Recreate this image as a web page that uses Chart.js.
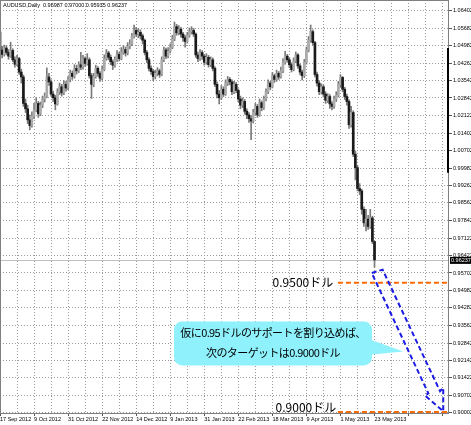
<!DOCTYPE html>
<html>
<head>
<meta charset="utf-8">
<script src="https://cdn.jsdelivr.net/npm/chart.js@4.4.1/dist/chart.umd.min.js"></script>
<style>
  html, body { margin: 0; padding: 0; background: #fff; }
  #wrap { width: 471px; height: 425px; }
</style>
</head>
<body>
<div id="wrap"><canvas id="chart" width="471" height="425"></canvas></div>
<script>
// AUDUSD daily bars, 17 Sep 2012 .. 23 May 2013
const opens = [
  1.0553, 1.0480, 1.0462, 1.0488, 1.0470, 1.0455, 1.0478, 1.0440, 1.0422, 1.0445,
  1.0390, 1.0370, 1.0262, 1.0240, 1.0195, 1.0172, 1.0210, 1.0235, 1.0262, 1.0220,
  1.0255, 1.0280, 1.0290, 1.0370, 1.0350, 1.0300, 1.0285, 1.0260, 1.0310, 1.0330,
  1.0305, 1.0340, 1.0325, 1.0360, 1.0385, 1.0372, 1.0405, 1.0395, 1.0420, 1.0410,
  1.0445, 1.0425, 1.0440, 1.0375, 1.0340, 1.0372, 1.0405, 1.0385, 1.0365, 1.0400,
  1.0445, 1.0468, 1.0450, 1.0432, 1.0418, 1.0440, 1.0462, 1.0445, 1.0470, 1.0482,
  1.0468, 1.0495, 1.0505, 1.0535, 1.0560, 1.0545, 1.0552, 1.0538, 1.0520, 1.0470,
  1.0440, 1.0405, 1.0392, 1.0372, 1.0385, 1.0395, 1.0380, 1.0440, 1.0480, 1.0455,
  1.0475, 1.0490, 1.0525, 1.0575, 1.0550, 1.0565, 1.0545, 1.0530, 1.0515, 1.0540,
  1.0555, 1.0560, 1.0545, 1.0460, 1.0445, 1.0470, 1.0455, 1.0430, 1.0450, 1.0420,
  1.0440, 1.0405, 1.0340, 1.0300, 1.0285, 1.0320, 1.0300, 1.0345, 1.0360, 1.0350,
  1.0310, 1.0340, 1.0315, 1.0280, 1.0255, 1.0270, 1.0230, 1.0215, 1.0200, 1.0190,
  1.0225, 1.0250, 1.0215, 1.0265, 1.0245, 1.0280, 1.0310, 1.0345, 1.0330, 1.0375,
  1.0360, 1.0385, 1.0370, 1.0395, 1.0430, 1.0455, 1.0440, 1.0420, 1.0400, 1.0435,
  1.0460, 1.0415, 1.0390, 1.0375, 1.0430, 1.0480, 1.0520, 1.0555, 1.0510, 1.0380,
  1.0345, 1.0310, 1.0330, 1.0300, 1.0275, 1.0290, 1.0260, 1.0250, 1.0280, 1.0295,
  1.0340, 1.0368, 1.0320, 1.0290, 1.0270, 1.0175, 1.0225, 1.0055, 1.0000, 0.9915,
  0.9905, 0.9830, 0.9775, 0.9790, 0.9760, 0.9795, 0.96987
];
const highs = [
  1.0562, 1.0495, 1.0500, 1.0498, 1.0482, 1.0512, 1.0485, 1.0452, 1.0458, 1.0450,
  1.0402, 1.0378, 1.0280, 1.0255, 1.0215, 1.0228, 1.0262, 1.0285, 1.0270, 1.0268,
  1.0292, 1.0305, 1.0407, 1.0385, 1.0358, 1.0312, 1.0295, 1.0322, 1.0345, 1.0340,
  1.0355, 1.0352, 1.0372, 1.0398, 1.0395, 1.0420, 1.0418, 1.0432, 1.0470, 1.0458,
  1.0452, 1.0465, 1.0448, 1.0385, 1.0385, 1.0418, 1.0412, 1.0392, 1.0415, 1.0460,
  1.0482, 1.0475, 1.0460, 1.0440, 1.0452, 1.0478, 1.0470, 1.0490, 1.0498, 1.0492,
  1.0510, 1.0522, 1.0548, 1.0582, 1.0572, 1.0568, 1.0562, 1.0545, 1.0525, 1.0478,
  1.0448, 1.0415, 1.0400, 1.0398, 1.0408, 1.0402, 1.0452, 1.0492, 1.0488, 1.0490,
  1.0505, 1.0540, 1.0594, 1.0585, 1.0580, 1.0572, 1.0552, 1.0540, 1.0552, 1.0570,
  1.0575, 1.0568, 1.0550, 1.0472, 1.0482, 1.0478, 1.0462, 1.0465, 1.0458, 1.0452,
  1.0448, 1.0412, 1.0350, 1.0315, 1.0335, 1.0330, 1.0358, 1.0372, 1.0368, 1.0358,
  1.0352, 1.0348, 1.0322, 1.0292, 1.0285, 1.0278, 1.0240, 1.0225, 1.0212, 1.0238,
  1.0262, 1.0258, 1.0280, 1.0272, 1.0292, 1.0322, 1.0358, 1.0352, 1.0388, 1.0382,
  1.0398, 1.0392, 1.0410, 1.0445, 1.0475, 1.0462, 1.0448, 1.0428, 1.0448, 1.0472,
  1.0465, 1.0422, 1.0398, 1.0442, 1.0492, 1.0535, 1.0582, 1.0562, 1.0515, 1.0390,
  1.0355, 1.0342, 1.0338, 1.0310, 1.0302, 1.0298, 1.0270, 1.0292, 1.0310, 1.0352,
  1.0380, 1.0372, 1.0328, 1.0300, 1.0278, 1.0250, 1.0232, 1.0068, 1.0010, 0.9935,
  0.9912, 0.9840, 0.9830, 0.9805, 0.9830, 0.9802, 0.97000
];
const lows = [
  1.0470, 1.0448, 1.0455, 1.0460, 1.0442, 1.0450, 1.0432, 1.0410, 1.0415, 1.0380,
  1.0345, 1.0250, 1.0225, 1.0180, 1.0154, 1.0165, 1.0200, 1.0228, 1.0205, 1.0212,
  1.0245, 1.0268, 1.0285, 1.0335, 1.0292, 1.0270, 1.0236, 1.0255, 1.0298, 1.0292,
  1.0298, 1.0312, 1.0318, 1.0350, 1.0360, 1.0365, 1.0382, 1.0388, 1.0400, 1.0402,
  1.0412, 1.0418, 1.0365, 1.0282, 1.0330, 1.0365, 1.0372, 1.0352, 1.0358, 1.0395,
  1.0438, 1.0440, 1.0420, 1.0400, 1.0410, 1.0432, 1.0435, 1.0440, 1.0462, 1.0455,
  1.0460, 1.0485, 1.0498, 1.0528, 1.0535, 1.0530, 1.0525, 1.0505, 1.0460, 1.0428,
  1.0395, 1.0380, 1.0355, 1.0362, 1.0375, 1.0368, 1.0375, 1.0432, 1.0445, 1.0448,
  1.0468, 1.0485, 1.0518, 1.0540, 1.0542, 1.0532, 1.0515, 1.0492, 1.0508, 1.0532,
  1.0545, 1.0535, 1.0450, 1.0432, 1.0438, 1.0442, 1.0418, 1.0422, 1.0410, 1.0412,
  1.0395, 1.0330, 1.0285, 1.0260, 1.0278, 1.0290, 1.0295, 1.0335, 1.0338, 1.0298,
  1.0302, 1.0305, 1.0268, 1.0240, 1.0245, 1.0218, 1.0200, 1.0185, 1.0114, 1.0182,
  1.0215, 1.0205, 1.0210, 1.0232, 1.0238, 1.0272, 1.0302, 1.0318, 1.0325, 1.0348,
  1.0352, 1.0360, 1.0365, 1.0388, 1.0422, 1.0430, 1.0408, 1.0390, 1.0395, 1.0428,
  1.0405, 1.0378, 1.0358, 1.0368, 1.0422, 1.0472, 1.0512, 1.0500, 1.0370, 1.0332,
  1.0298, 1.0300, 1.0288, 1.0262, 1.0265, 1.0242, 1.0236, 1.0242, 1.0270, 1.0288,
  1.0330, 1.0310, 1.0278, 1.0255, 1.0160, 1.0165, 1.0045, 0.9950, 0.9905, 0.9890,
  0.9810, 0.9760, 0.9742, 0.9748, 0.9752, 0.9690, 0.95935
];
const closes = [
  1.0480, 1.0462, 1.0488, 1.0470, 1.0455, 1.0478, 1.0440, 1.0422, 1.0445, 1.0390,
  1.0370, 1.0262, 1.0240, 1.0195, 1.0172, 1.0210, 1.0235, 1.0262, 1.0220, 1.0255,
  1.0280, 1.0290, 1.0370, 1.0350, 1.0300, 1.0285, 1.0260, 1.0310, 1.0330, 1.0305,
  1.0340, 1.0325, 1.0360, 1.0385, 1.0372, 1.0405, 1.0395, 1.0420, 1.0410, 1.0445,
  1.0425, 1.0440, 1.0375, 1.0340, 1.0372, 1.0405, 1.0385, 1.0365, 1.0400, 1.0445,
  1.0468, 1.0450, 1.0432, 1.0418, 1.0440, 1.0462, 1.0445, 1.0470, 1.0482, 1.0468,
  1.0495, 1.0505, 1.0535, 1.0560, 1.0545, 1.0552, 1.0538, 1.0520, 1.0470, 1.0440,
  1.0405, 1.0392, 1.0372, 1.0385, 1.0395, 1.0380, 1.0440, 1.0480, 1.0455, 1.0475,
  1.0490, 1.0525, 1.0575, 1.0550, 1.0565, 1.0545, 1.0530, 1.0515, 1.0540, 1.0555,
  1.0560, 1.0545, 1.0460, 1.0445, 1.0470, 1.0455, 1.0430, 1.0450, 1.0420, 1.0440,
  1.0405, 1.0340, 1.0300, 1.0285, 1.0320, 1.0300, 1.0345, 1.0360, 1.0350, 1.0310,
  1.0340, 1.0315, 1.0280, 1.0255, 1.0270, 1.0230, 1.0215, 1.0200, 1.0190, 1.0225,
  1.0250, 1.0215, 1.0265, 1.0245, 1.0280, 1.0310, 1.0345, 1.0330, 1.0375, 1.0360,
  1.0385, 1.0370, 1.0395, 1.0430, 1.0455, 1.0440, 1.0420, 1.0400, 1.0435, 1.0460,
  1.0415, 1.0390, 1.0375, 1.0430, 1.0480, 1.0520, 1.0555, 1.0510, 1.0380, 1.0345,
  1.0310, 1.0330, 1.0300, 1.0275, 1.0290, 1.0260, 1.0250, 1.0280, 1.0295, 1.0340,
  1.0368, 1.0320, 1.0290, 1.0270, 1.0175, 1.0225, 1.0055, 1.0000, 0.9915, 0.9905,
  0.9830, 0.9775, 0.9790, 0.9760, 0.9795, 0.9699, 0.96237
];

// one label every 16 bars
const xTickLabels = ['17 Sep 2012', '9 Oct 2012', '31 Oct 2012', '22 Nov 2012', '14 Dec 2012', '9 Jan 2013',
  '31 Jan 2013', '22 Feb 2013', '18 Mar 2013', '9 Apr 2013', '1 May 2013', '23 May 2013'];
const yTickValues = [1.06402, 1.05682, 1.04982, 1.04262, 1.03542, 1.02842, 1.02122, 1.01402, 1.00702, 0.99982,
  0.99262, 0.98562, 0.97842, 0.97122, 0.96422, 0.95702, 0.94982, 0.94282, 0.93562, 0.92842,
  0.92142, 0.91422, 0.90702, 0.90002];

const headerText = 'AUDUSD,Daily  0.96987 0.97000 0.95935 0.96237';
const lastPrice = 0.96237;
const supportLevel = 0.9530;   // drawn slightly above 0.95 in the picture
const targetLevel = 0.9003;
const calloutLines = ['仮に0.95ドルのサポートを割り込めば、', '次のターゲットは0.9000ドル'];

// chart has empty shift space on the right
const slotCount = 212;
const slots = Array.from({ length: slotCount }, (_, i) => i);

const wickData = lows.map((l, i) => [l, highs[i]]);
const bodyData = opens.map((o, i) => [o, closes[i]]);
const isUp = i => closes[i] >= opens[i];

const gridColor = '#9a9a9a';
const axisFont = { family: 'Liberation Sans', size: 5.5 };
const jpFont = '12px "Noto Sans CJK JP"';
const calloutFont = '11px "Noto Sans CJK JP"';

const overlay = {
    id: 'overlay',
    beforeDatasetsDraw(chart) {
        const { ctx, chartArea: a, scales: { y } } = chart;
        const yy = Math.round(y.getPixelForValue(lastPrice)) + 0.5;
        ctx.save();
        ctx.strokeStyle = '#c0c0c0';
        ctx.lineWidth = 1;
        ctx.beginPath();
        ctx.moveTo(a.left, yy);
        ctx.lineTo(a.right, yy);
        ctx.stroke();
        ctx.restore();
    },
    afterDatasetsDraw(chart) {
        const { ctx, chartArea: a, scales: { x, y } } = chart;
        const px = v => x.getPixelForValue(v);
        const py = v => y.getPixelForValue(v);
        ctx.save();

        // orange level lines
        ctx.strokeStyle = '#ff6a00';
        ctx.lineWidth = 2;
        ctx.setLineDash([5, 3]);
        [supportLevel, targetLevel].forEach(lv => {
            ctx.beginPath();
            ctx.moveTo(px(158.8), py(lv));
            ctx.lineTo(a.right, py(lv));
            ctx.stroke();
        });

        // level texts
        ctx.setLineDash([]);
        ctx.fillStyle = '#000';
        ctx.font = jpFont;
        ctx.textAlign = 'right';
        ctx.textBaseline = 'middle';
        ctx.fillText('0.9500ドル', px(156.6), py(0.9531));
        ctx.fillText('0.9000ドル', px(158.0), py(0.9021));

        // callout bubble
        const bx0 = px(81.8), bx1 = px(174.8), by0 = py(0.9372), by1 = py(0.9193);
        ctx.fillStyle = '#8ef1fb';
        ctx.beginPath();
        ctx.roundRect(bx0, by0, bx1 - bx0, by1 - by0, 8);
        ctx.fill();
        ctx.beginPath();
        ctx.moveTo(bx1 - 2, py(0.9299));
        ctx.lineTo(px(189.5), py(0.9250));
        ctx.lineTo(bx1 - 2, py(0.9237));
        ctx.closePath();
        ctx.fill();
        ctx.fillStyle = '#000';
        ctx.font = calloutFont;
        ctx.letterSpacing = '-0.6px';
        ctx.textAlign = 'center';
        ctx.fillText(calloutLines[0], px(128.3), py(0.9327));
        ctx.fillText(calloutLines[1], px(128.3), py(0.9246));
        ctx.letterSpacing = '0px';

        // blue dashed block arrow
        const arrow = [[174.7, 0.9570], [179.8, 0.9584], [206.8, 0.9088], [208.3, 0.9102],
                       [208.3, 0.9006], [199.7, 0.9070], [201.3, 0.9079]];
        ctx.strokeStyle = '#1c1ce6';
        ctx.lineWidth = 2;
        ctx.setLineDash([5, 3]);
        ctx.beginPath();
        arrow.forEach(([i, v], k) => k ? ctx.lineTo(px(i), py(v)) : ctx.moveTo(px(i), py(v)));
        ctx.closePath();
        ctx.stroke();
        ctx.restore();
    },
    afterDraw(chart) {
        const { ctx, chartArea: a, scales: { y } } = chart;
        ctx.save();
        // plot frame
        ctx.strokeStyle = '#808080';
        ctx.lineWidth = 1;
        ctx.strokeRect(a.left + 0.5, a.top + 0.5, a.right - a.left - 1, a.bottom - a.top);
        ctx.strokeStyle = '#000';
        ctx.lineWidth = 2;
        ctx.beginPath();
        ctx.moveTo(a.right - 1, y.getPixelForValue(1.0488));
        ctx.lineTo(a.right - 1, y.getPixelForValue(0.9979));
        ctx.stroke();

        // header
        ctx.fillStyle = '#000';
        ctx.font = '5.5px "Liberation Sans"';
        ctx.textAlign = 'left';
        ctx.textBaseline = 'middle';
        ctx.fillText(headerText, a.left + 3, a.top + 5);

        // last price tag
        const yy = y.getPixelForValue(lastPrice);
        ctx.fillStyle = '#000';
        ctx.fillRect(a.right + 1, yy - 3, 21, 7);
        ctx.fillStyle = '#fff';
        ctx.fillText(lastPrice.toFixed(5), a.right + 2, yy + 0.5);
        ctx.restore();
    }
};

new Chart(document.getElementById('chart'), {
    type: 'bar',
    data: {
        labels: slots,
        datasets: [
            {
                data: wickData,
                barThickness: 1,
                grouped: false,
                order: 2,
                backgroundColor: '#7a7a7a'
            },
            {
                data: bodyData,
                barThickness: 2,
                minBarLength: 1,
                grouped: false,
                order: 1,
                backgroundColor: c => isUp(c.dataIndex) ? '#ababab' : '#1a1a1a'
            }
        ]
    },
    options: {
        responsive: false,
        animation: false,
        layout: { padding: 0 },
        plugins: { legend: { display: false }, tooltip: { enabled: false } },
        scales: {
            x: {
                offset: false,
                grid: {
                    offset: false,
                    color: c => c.index % 8 === 0 ? gridColor : 'transparent',
                    tickColor: c => c.index % 16 === 0 ? '#555' : 'transparent',
                    tickLength: 3
                },
                border: { display: false, dash: [1, 2] },
                ticks: {
                    autoSkip: false,
                    maxRotation: 0,
                    align: 'start',
                    padding: 0,
                    color: '#000',
                    font: axisFont,
                    callback: (v, i) => i % 16 === 0 && xTickLabels[i / 16] ? xTickLabels[i / 16] : ''
                },
                afterFit: s => { s.height = 12; s.paddingLeft = 0; s.paddingRight = 0; }
            },
            y: {
                position: 'right',
                min: 0.8999,
                max: 1.0684,
                afterBuildTicks: s => { s.ticks = yTickValues.map(v => ({ value: v })); },
                grid: { color: gridColor, tickColor: '#555', tickLength: 3 },
                border: { display: false, dash: [1, 2] },
                ticks: {
                    padding: 1,
                    color: '#000',
                    font: axisFont,
                    callback: v => v.toFixed(5)
                },
                afterFit: s => { s.width = 22; s.paddingTop = 0; s.paddingBottom = 0; }
            }
        }
    },
    plugins: [overlay]
});
</script>
</body>
</html>
